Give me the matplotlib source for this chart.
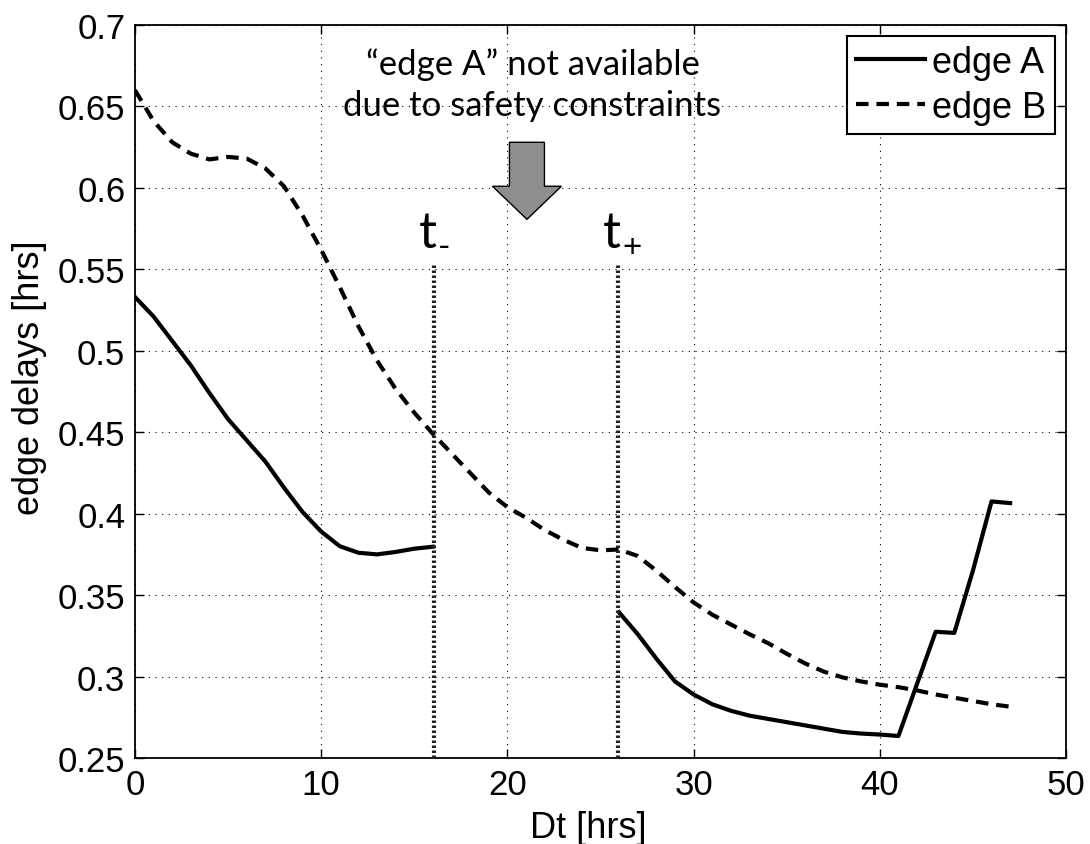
import numpy as np
import matplotlib
matplotlib.use("Agg")
import matplotlib.pyplot as plt
from matplotlib.patches import FancyArrow
from matplotlib.ticker import FixedLocator, FuncFormatter

# ---------------- data ----------------
hours = list(range(0, 48))
edge_a = [0.533, 0.521, 0.506, 0.491, 0.474, 0.458, 0.445, 0.432, 0.416, 0.401,
          0.389, 0.380, 0.376, 0.375, 0.3765, 0.3785, 0.3797,
          np.nan, np.nan, np.nan, np.nan, np.nan, np.nan, np.nan, np.nan, np.nan,
          0.3394, 0.326, 0.311, 0.297, 0.289, 0.283, 0.279, 0.276, 0.274, 0.272,
          0.270, 0.268, 0.266, 0.265, 0.2644, 0.2635, 0.2955, 0.3275, 0.3268,
          0.365, 0.4075, 0.4065]
edge_b = [0.660, 0.641, 0.628, 0.621, 0.6175, 0.619, 0.618, 0.612, 0.601, 0.583,
          0.562, 0.539, 0.515, 0.494, 0.4765, 0.462, 0.449, 0.437, 0.425, 0.413,
          0.404, 0.3975, 0.390, 0.384, 0.379, 0.3775, 0.378, 0.374, 0.365, 0.355,
          0.3455, 0.338, 0.332, 0.326, 0.3205, 0.314, 0.308, 0.303, 0.2995, 0.297,
          0.295, 0.2935, 0.2915, 0.289, 0.287, 0.285, 0.283, 0.2815]
t_minus = 16.05
t_plus = 25.95
marker_top = 0.553
x_ticks = [0, 10, 20, 30, 40, 50]
y_ticks = [0.25, 0.3, 0.35, 0.4, 0.45, 0.5, 0.55, 0.6, 0.65, 0.7]
series_labels = ["edge A", "edge B"]
note_text = "\u201cedge A\u201d not available\ndue to safety constraints"
xlabel = "Dt [hrs]"
ylabel = "edge delays [hrs]"

# ---------------- figure ----------------
plt.rcParams['font.family'] = ['Liberation Sans', 'DejaVu Sans']
fig = plt.figure(figsize=(10.9, 8.45), dpi=100)
ax = fig.add_axes([135/1090, 86/845, 931/1090, 733/845])

ax.plot(hours, edge_a, color='black', lw=3.0, solid_joinstyle='round',
        label=series_labels[0])
ax.plot(hours, edge_b, color='black', lw=3.0, linestyle=(0, (3.0, 1.9)),
        label=series_labels[1])

ax.vlines([t_minus, t_plus], y_ticks[0], marker_top, colors='#222222',
          linestyles=(0, (0.6, 0.6)), lw=3.0, zorder=3)

ax.set_xlim(x_ticks[0], x_ticks[-1])
ax.set_ylim(y_ticks[0], y_ticks[-1])
ax.xaxis.set_major_locator(FixedLocator(x_ticks))
ax.yaxis.set_major_locator(FixedLocator(y_ticks))
ax.yaxis.set_major_formatter(FuncFormatter(lambda v, p: ('%.2f' % v).rstrip('0').rstrip('.')))
ax.tick_params(axis='both', which='both', direction='in', length=6.5, width=1.0,
               top=True, right=True, labelsize=25, pad=7)
ax.grid(True, color='black', linestyle=(0, (1, 5)), lw=0.8)
for s in ax.spines.values():
    s.set_linewidth(1.3)

ax.set_xlabel(xlabel, fontsize=26)
ax.set_ylabel(ylabel, fontsize=26)
ax.xaxis.set_label_coords(0.487, -0.071)
ax.yaxis.set_label_coords(-0.095, 0.52)

leg = ax.legend(loc='upper right', fontsize=26, handlelength=1.9,
                handletextpad=0.2, borderpad=0.25, labelspacing=0.28,
                borderaxespad=0.3, fancybox=False, framealpha=1)
leg.get_frame().set_edgecolor('black')
leg.get_frame().set_linewidth(1.5)

# annotation text
ax.text(21.35, 0.6635, note_text, ha='center', va='center', fontsize=25,
        family=['Lato', 'DejaVu Sans'], linespacing=1.35)

# arrow
arr = FancyArrow(21.05, 0.628, 0, -0.0473, width=1.88, head_width=3.7,
                 head_length=0.0203, length_includes_head=True,
                 fc='#8e8e8e', ec='black', lw=1.0, zorder=4)
ax.add_patch(arr)

# t- and t+ labels
for xpos, sub in [(t_minus, '-'), (t_plus, '+')]:
    ax.annotate('t', xy=(xpos, 0.5635), xytext=(2, 0), textcoords='offset points',
                ha='right', va='baseline', fontsize=36, family=['Lato', 'DejaVu Sans'])
    ax.annotate(sub, xy=(xpos, 0.5635), xytext=(3, -6), textcoords='offset points',
                ha='left', va='baseline', fontsize=24, family=['Lato', 'DejaVu Sans'])

fig.savefig('out.png', dpi=100)
